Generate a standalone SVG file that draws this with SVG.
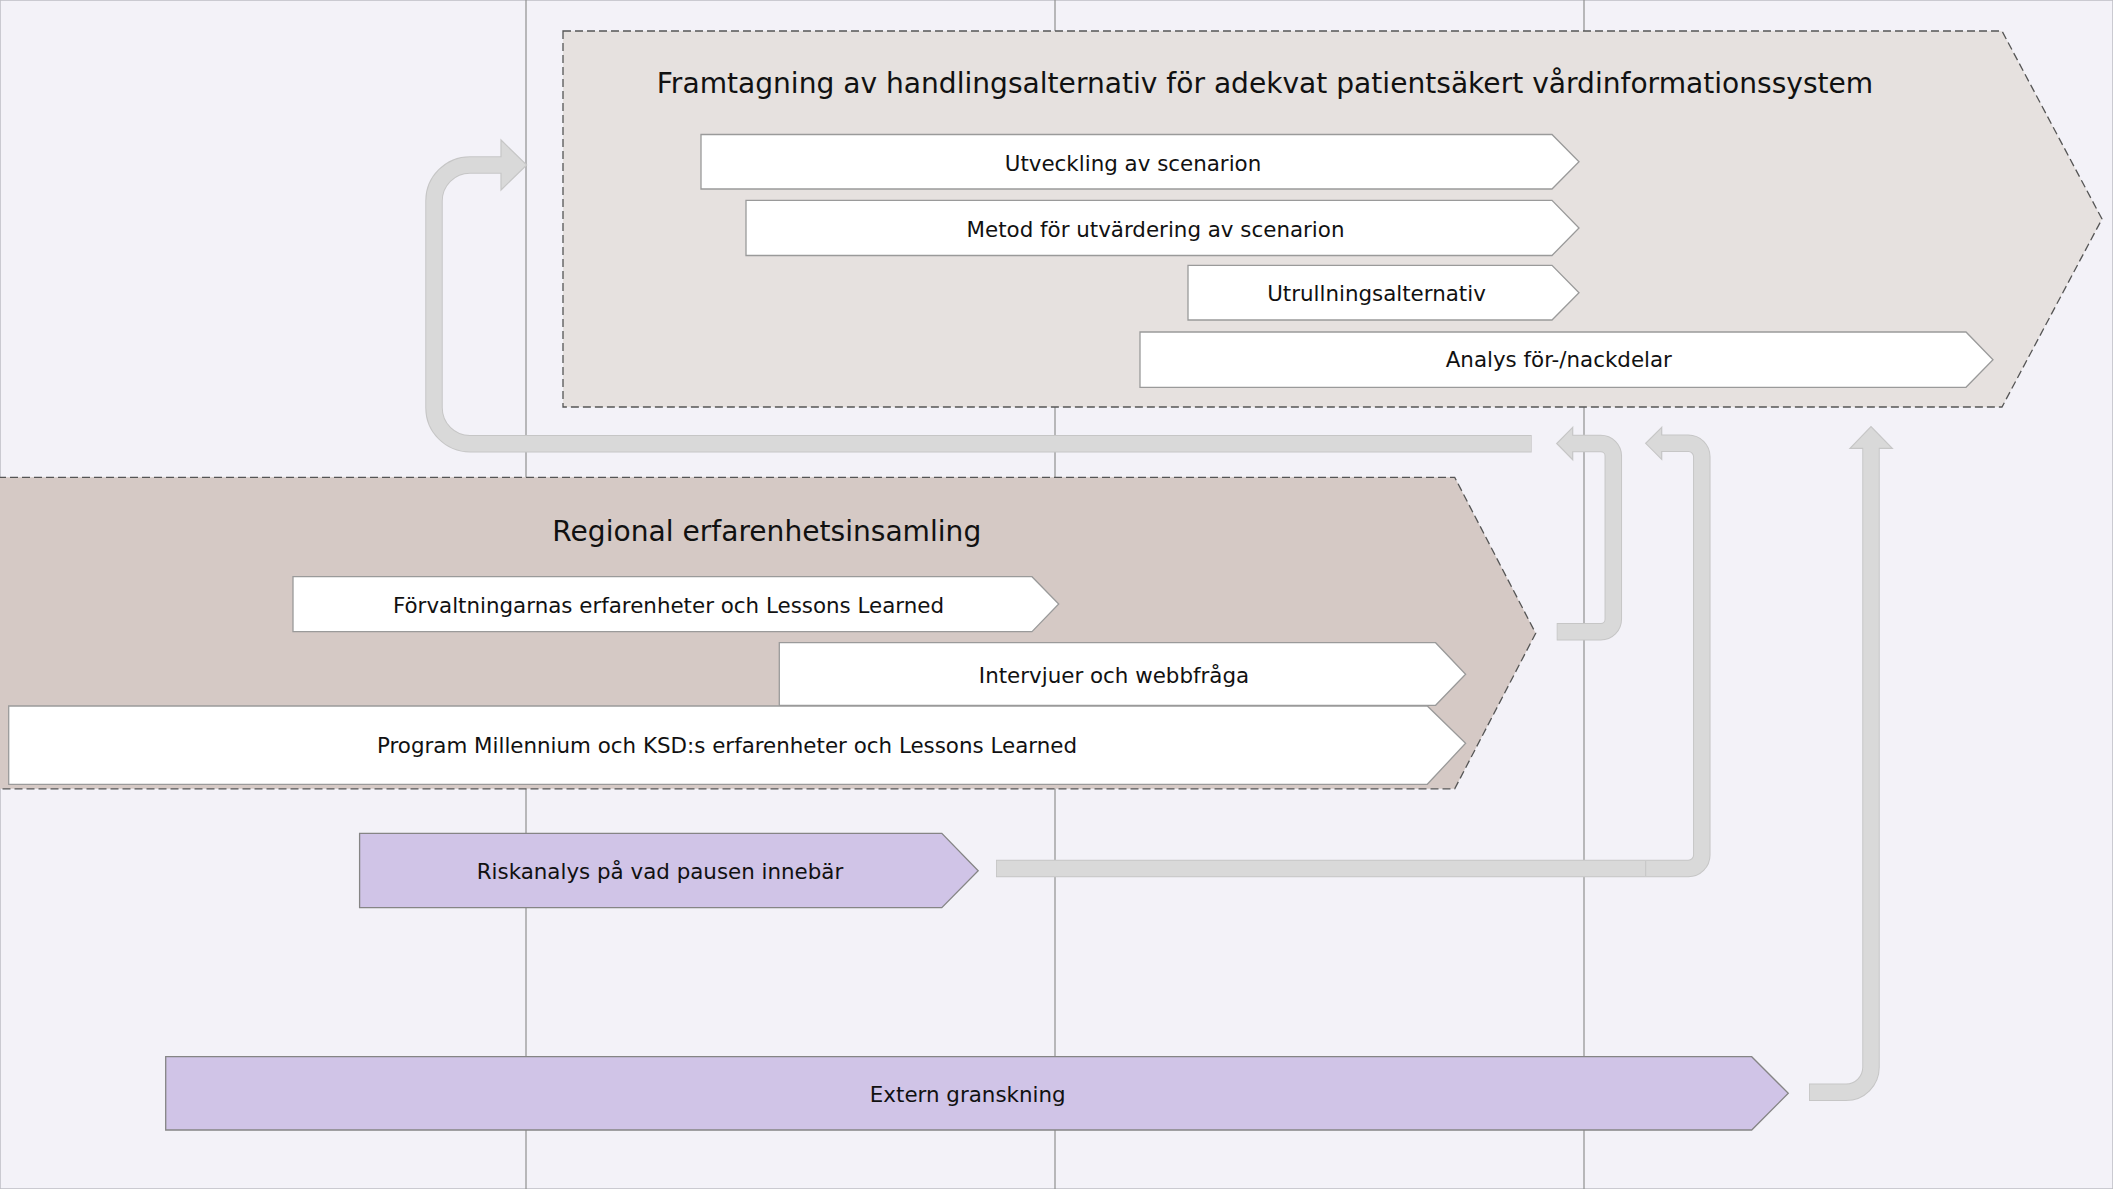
<svg xmlns="http://www.w3.org/2000/svg" width="2113" height="1189" viewBox="0 0 2113 1189">
<style>
.bg{fill:#f3f2f8;stroke:#bdbdc4;stroke-width:1.5}
.grid{stroke:#8f8f8f;stroke-width:1.2}
.frame{stroke:#555;stroke-width:1.3;stroke-dasharray:8 4}
.f1{fill:#e6e1df}
.f2{fill:#d5c9c5}
.wnode{fill:#ffffff;stroke:#9a9a9a;stroke-width:1.3}
.pnode{fill:#d0c4e7;stroke:#858585;stroke-width:1.3}
.title{font-family:"DejaVu Sans",Verdana,sans-serif;font-size:28.1px;fill:#111;text-anchor:middle}
.lbl{font-family:"DejaVu Sans",Verdana,sans-serif;font-size:21.4px;fill:#111;text-anchor:middle}
.co{fill:none;stroke:#c6c6c6;stroke-width:17.5}
.ci{fill:none;stroke:#d9d9d9;stroke-width:15.5}
.head{fill:#d9d9d9;stroke:#c6c6c6;stroke-width:1.2}
.seam{stroke:#c6c6c6;stroke-width:1}
</style>
<rect class="bg" x="0" y="0" width="2113" height="1189"/>
<g id="grid">
<line class="grid" x1="526" y1="0" x2="526" y2="1189"/>
<line class="grid" x1="1055" y1="0" x2="1055" y2="1189"/>
<line class="grid" x1="1584" y1="0" x2="1584" y2="1189"/>
</g>
<g id="frame-framtagning">
<polygon class="frame f1" points="563,31 2002,31 2102,219 2002,407 563,407"/>
<text class="title" x="1265" y="92.7">Framtagning av handlingsalternativ för adekvat patientsäkert vårdinformationssystem</text>
</g>
<g id="node-utveckling">
<polygon class="wnode" points="701,134.5 1552,134.5 1579,161.7 1552,189 701,189"/>
<text class="lbl" x="1133" y="170.7">Utveckling av scenarion</text>
</g>
<g id="node-metod">
<polygon class="wnode" points="746,200.3 1552,200.3 1579,228 1552,255.5 746,255.5"/>
<text class="lbl" x="1155.5" y="236.7">Metod för utvärdering av scenarion</text>
</g>
<g id="node-utrullning">
<polygon class="wnode" points="1188,265.3 1552,265.3 1579,292.7 1552,320 1188,320"/>
<text class="lbl" x="1376.5" y="300.7">Utrullningsalternativ</text>
</g>
<g id="node-analys">
<polygon class="wnode" points="1140,332 1966,332 1993,359.7 1966,387.3 1140,387.3"/>
<text class="lbl" x="1558.8" y="367.3">Analys för-/nackdelar</text>
</g>
<g id="frame-regional">
<polygon class="frame f2" points="-2,477.3 1454.7,477.3 1535.7,633.3 1454.7,788.8 -2,788.8"/>
<text class="title" x="766.8" y="540.7">Regional erfarenhetsinsamling</text>
</g>
<g id="node-forvaltningarnas">
<polygon class="wnode" points="293,576.7 1032,576.7 1058.7,604 1032,631.7 293,631.7"/>
<text class="lbl" x="668.5" y="612.7">Förvaltningarnas erfarenheter och Lessons Learned</text>
</g>
<g id="node-intervjuer">
<polygon class="wnode" points="779.3,642.7 1435.6,642.7 1465.6,674.3 1435.6,705.3 779.3,705.3"/>
<text class="lbl" x="1114" y="682.7">Intervjuer och webbfråga</text>
</g>
<g id="node-program">
<polygon class="wnode" points="8.7,706 1427.3,706 1465.6,743.3 1427.3,784.3 8.7,784.3"/>
<text class="lbl" x="727" y="753.3">Program Millennium och KSD:s erfarenheter och Lessons Learned</text>
</g>
<g id="node-riskanalys">
<polygon class="pnode" points="359.6,833.3 941.8,833.3 978.2,870.7 941.8,907.7 359.6,907.7"/>
<text class="lbl" x="660" y="879">Riskanalys på vad pausen innebär</text>
</g>
<g id="node-extern">
<polygon class="pnode" points="165.7,1056.7 1751.7,1056.7 1788.3,1093.3 1751.7,1130 165.7,1130"/>
<text class="lbl" x="967.7" y="1101.7">Extern granskning</text>
</g>
<g id="connectors">
<g id="conn-a">
<path class="co" d="M1531.7,443.7 H470 A36,36 0 0 1 434,407.7 V201 A36,36 0 0 1 470,165 H501"/>
<polygon class="head" points="501,140 526.7,165 501,190"/>
<path class="ci" d="M1531,443.7 H470 A36,36 0 0 1 434,407.7 V201 A36,36 0 0 1 470,165 H502.5"/>
</g>
<g id="conn-b">
<path class="co" d="M1556.7,631.8 H1600.8 A12.5,12.5 0 0 0 1613.3,619.3 V456 A12.5,12.5 0 0 0 1600.8,443.5 H1572.7"/>
<polygon class="head" points="1572.7,427.3 1556.7,443.5 1572.7,459.7"/>
<path class="ci" d="M1557.5,631.8 H1600.8 A12.5,12.5 0 0 0 1613.3,619.3 V456 A12.5,12.5 0 0 0 1600.8,443.5 H1571.2"/>
</g>
<g id="conn-c">
<path class="co" d="M996,868.5 H1688.3 A13.5,13.5 0 0 0 1701.8,855 V456.8 A13.5,13.5 0 0 0 1688.3,443.3 H1661.7"/>
<polygon class="head" points="1661.7,427.3 1645.7,443.3 1661.7,459.3"/>
<path class="ci" d="M996.8,868.5 H1688.3 A13.5,13.5 0 0 0 1701.8,855 V456.8 A13.5,13.5 0 0 0 1688.3,443.3 H1660.2"/>
<line class="seam" x1="1645.7" y1="861" x2="1645.7" y2="876"/>
</g>
<g id="conn-d">
<path class="co" d="M1809,1092.3 H1846 A25,25 0 0 0 1871,1067.3 V448.3"/>
<polygon class="head" points="1850,448.3 1871,426.7 1892.3,448.3"/>
<path class="ci" d="M1809.8,1092.3 H1846 A25,25 0 0 0 1871,1067.3 V446.8"/>
</g>
</g>
</svg>
